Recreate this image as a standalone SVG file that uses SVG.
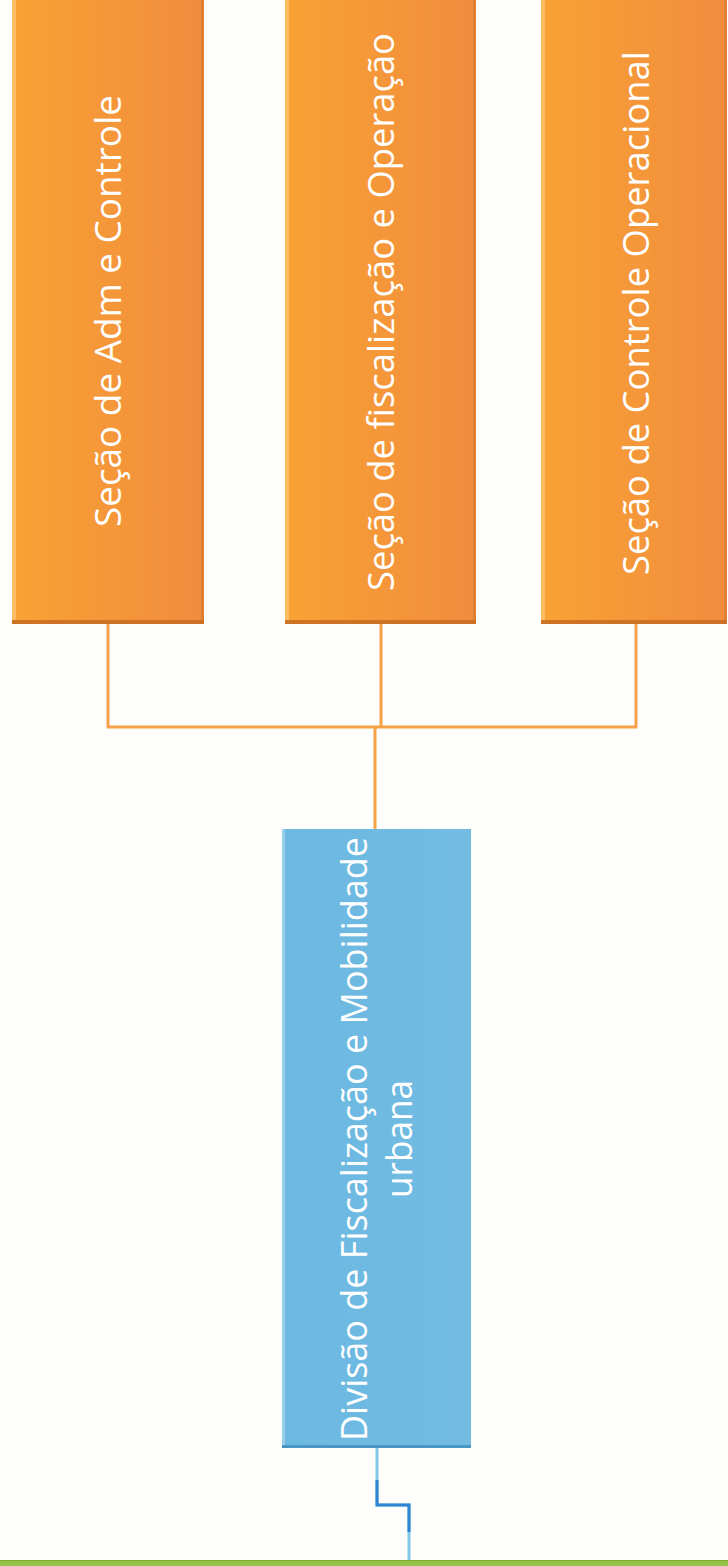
<svg xmlns="http://www.w3.org/2000/svg" width="728" height="1566" viewBox="0 0 728 1566">
  <defs>
    <linearGradient id="gOrange" x1="0" y1="0" x2="1" y2="0">
      <stop offset="0" stop-color="#F8A233"/>
      <stop offset="1" stop-color="#F18C3F"/>
    </linearGradient>
    <linearGradient id="gBlue" x1="0" y1="0" x2="1" y2="0">
      <stop offset="0" stop-color="#6BB8E1"/>
      <stop offset="1" stop-color="#72BCE2"/>
    </linearGradient>
    <style>
      .orange { fill: url(#gOrange); }
      .blue { fill: url(#gBlue); }
      .hiL { fill: #FCC36E; opacity: 0.8; }
      .shB { fill: #C66C22; opacity: 0.85; }
      .shR { fill: #D97A2E; opacity: 0.7; }
      .bhiL { fill: #A9D8F0; opacity: 0.7; }
      .bshB { fill: #3E8DBF; opacity: 0.8; }
      .lbl { font-family: "Open Sans", Lato, "DejaVu Sans", sans-serif; font-size: 37px; fill: #FFFFFF; text-anchor: middle; font-variant-ligatures: none; }
      .cOrange { fill: none; stroke: #F6A145; stroke-width: 3; }
      .cBlue { fill: none; stroke: #80C6E9; stroke-width: 3; }
      .cBlueDark { fill: none; stroke: #2F84D2; stroke-width: 3; }
    </style>
  </defs>

  <rect x="0" y="0" width="728" height="1566" fill="#FDFDFB"/>

  <g id="connectors">
    <path class="cOrange" d="M108,624 V727 H636 V624"/>
    <path class="cOrange" d="M381,624 V727"/>
    <path class="cOrange" d="M375,727 V829"/>
    <path class="cBlue" d="M377,1448 V1505 H409 V1561"/>
    <path class="cBlueDark" d="M377,1480 V1505 H409 V1532"/>
  </g>

  <g id="node-adm">
    <rect class="orange" x="12" y="0" width="192" height="624"/>
    <rect class="hiL" x="12" y="0" width="4" height="620"/>
    <rect class="shR" x="201" y="0" width="3" height="624"/>
    <rect class="shB" x="12" y="620" width="192" height="4"/>
    <text class="lbl" transform="translate(121,311) rotate(-90)" x="0" y="0" textLength="432" lengthAdjust="spacingAndGlyphs">Seção de Adm e Controle</text>
  </g>

  <g id="node-fiscalizacao">
    <rect class="orange" x="285" y="0" width="191" height="624"/>
    <rect class="hiL" x="285" y="0" width="4" height="620"/>
    <rect class="shR" x="473" y="0" width="3" height="624"/>
    <rect class="shB" x="285" y="620" width="191" height="4"/>
    <text class="lbl" transform="translate(394,312) rotate(-90)" x="0" y="0" textLength="558" lengthAdjust="spacingAndGlyphs">Seção de fiscalização e Operação</text>
  </g>

  <g id="node-controle">
    <rect class="orange" x="541" y="0" width="186" height="624"/>
    <rect class="hiL" x="541" y="0" width="4" height="620"/>
    <rect class="shR" x="724" y="0" width="3" height="624"/>
    <rect class="shB" x="541" y="620" width="186" height="4"/>
    <text class="lbl" transform="translate(649,313) rotate(-90)" x="0" y="0" textLength="524" lengthAdjust="spacingAndGlyphs">Seção de Controle Operacional</text>
  </g>

  <g id="node-divisao">
    <rect class="blue" x="282" y="829" width="189" height="619"/>
    <rect class="bhiL" x="282" y="829" width="3" height="616"/>
    <rect class="bshB" x="282" y="1445" width="189" height="3"/>
    <text class="lbl" transform="translate(367,1139) rotate(-90)" x="0" y="0" textLength="604" lengthAdjust="spacingAndGlyphs">Divisão de Fiscalização e Mobilidade</text>
    <text class="lbl" transform="translate(412,1139) rotate(-90)" x="0" y="0" textLength="118" lengthAdjust="spacingAndGlyphs">urbana</text>
  </g>

  <rect x="0" y="1560" width="728" height="6" fill="#95C244"/>
  <rect x="0" y="1560" width="728" height="1" fill="#7FA836"/>
</svg>
